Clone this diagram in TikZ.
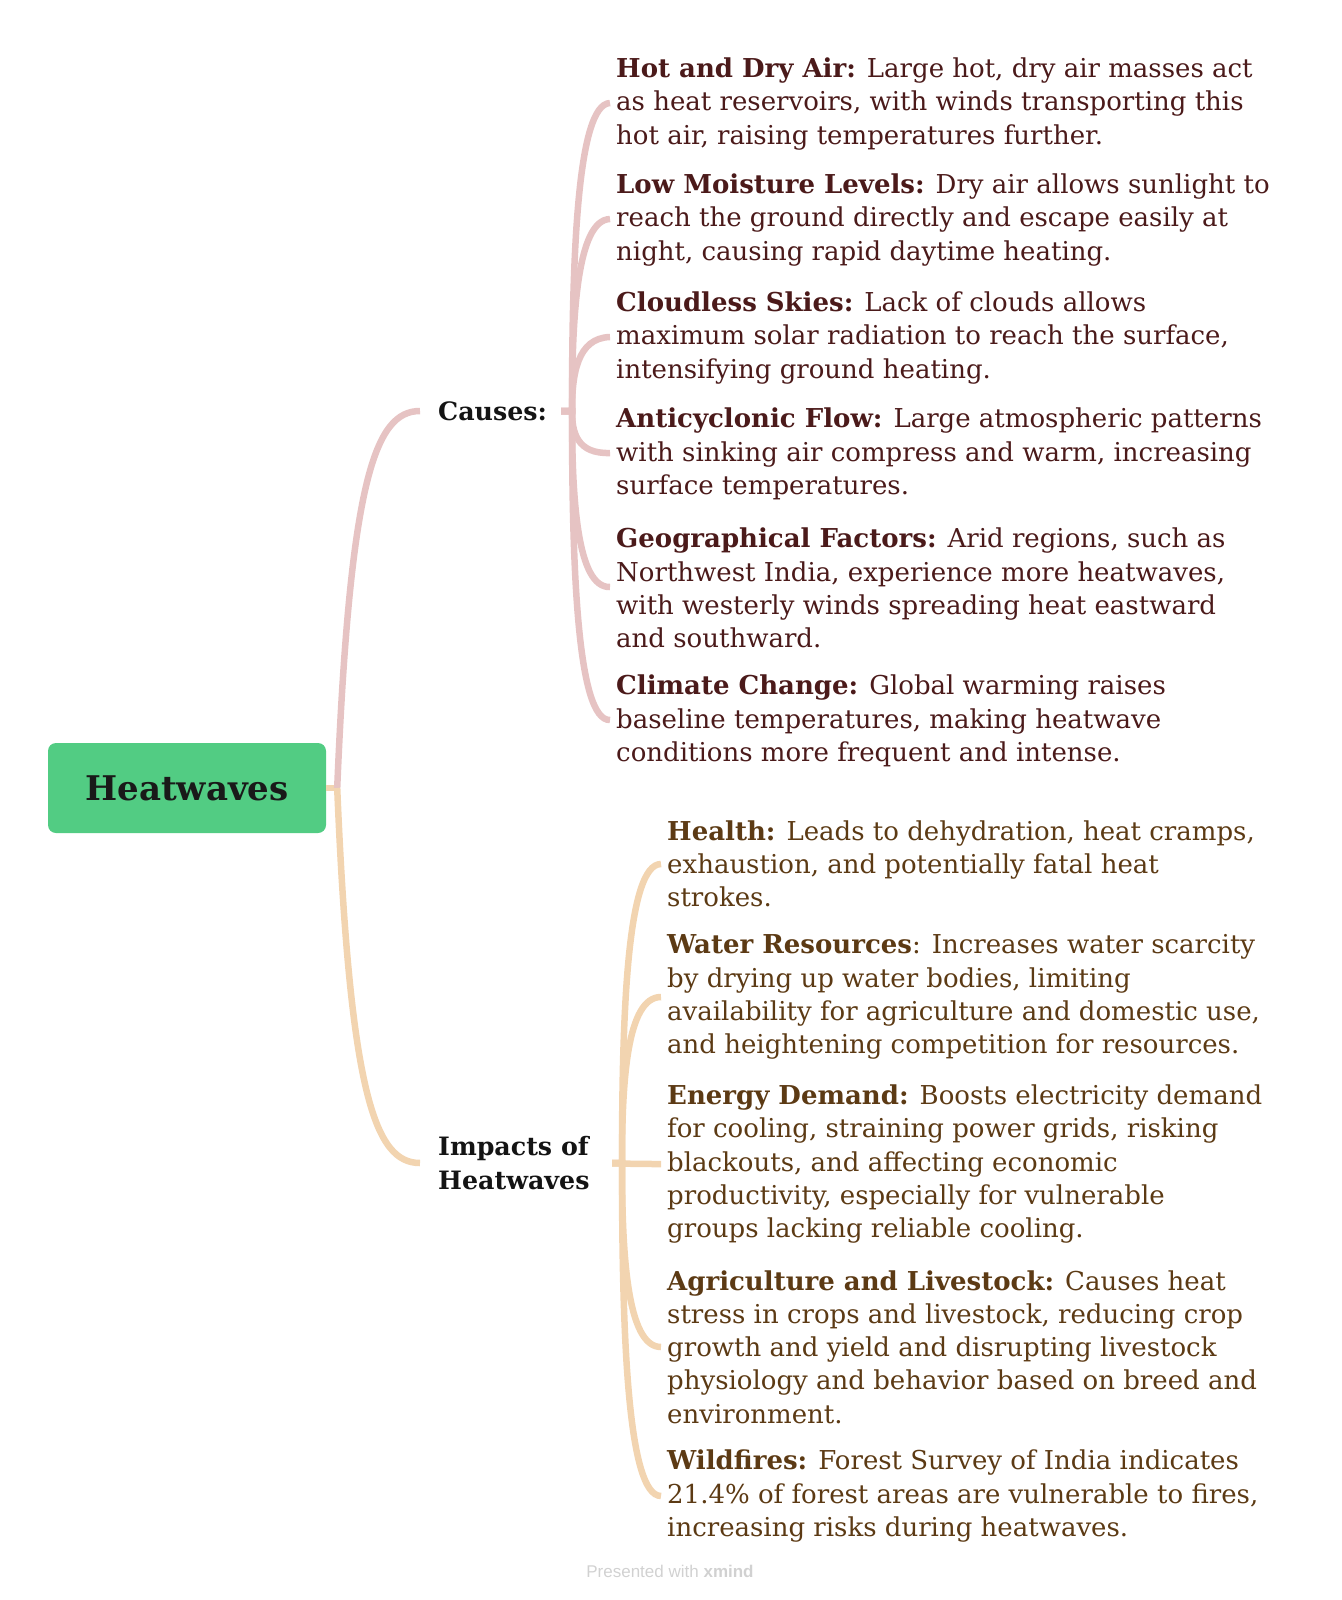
\documentclass[tikz,border=0pt]{standalone}
\usepackage{fontspec}
\setmainfont{DejaVu Serif}
\newfontfamily\footfont{Liberation Sans}
\usetikzlibrary{calc}
\definecolor{rootgreen}{HTML}{52CC83}
\definecolor{causeline}{HTML}{E6C3C3}
\definecolor{impactline}{HTML}{F2D4B0}
\definecolor{causetext}{HTML}{4B1A1A}
\definecolor{impacttext}{HTML}{5C3A14}

\begin{document}
\begin{tikzpicture}[x=1pt,y=-1pt,
   topic/.style={inner sep=0pt,align=left,anchor=west,
                 font=\fontsize{26}{33.2}\selectfont},
   cause/.style={topic,yshift=-2pt,text=causetext},
   impact/.style={topic,yshift=-1pt,text=impacttext},
   label/.style={inner sep=0pt,align=left,anchor=west,text=black!92,
                 font=\fontsize{25.3}{33.7}\selectfont\bfseries},
   branch/.style={line width=6.5pt}]
  \useasboundingbox (0,0) rectangle (1341,1600);
  \node[fill=rootgreen,rounded corners=8pt,minimum width=278pt,minimum height=90pt,
        font=\fontsize{34}{42}\selectfont\bfseries,text=black!90] (root) at (187,788) {Heatwaves};
  \node[label] (causes) at (438,411) {Causes:};
  \node[label] (impacts) at (438,1163) {Impacts of\\Heatwaves};
  % causes
  \node[cause] (hot) at (616,102) {\textbf{Hot and Dry Air:} Large hot, dry air masses act\\as heat reservoirs, with winds transporting this\\hot air, raising temperatures further.};
  \node[cause] (low) at (616,218) {\textbf{Low Moisture Levels:} Dry air allows sunlight to\\reach the ground directly and escape easily at\\night, causing rapid daytime heating.};
  \node[cause] (cloud) at (616,336) {\textbf{Cloudless Skies:} Lack of clouds allows\\maximum solar radiation to reach the surface,\\intensifying ground heating.};
  \node[cause] (anti) at (616,452) {\textbf{Anticyclonic Flow:} Large atmospheric patterns\\with sinking air compress and warm, increasing\\surface temperatures.};
  \node[cause] (geo) at (616,586) {\textbf{Geographical Factors:} Arid regions, such as\\Northwest India, experience more heatwaves,\\with westerly winds spreading heat eastward\\and southward.};
  \node[cause] (clim) at (616,719) {\textbf{Climate Change:} Global warming raises\\baseline temperatures, making heatwave\\conditions more frequent and intense.};
  % impacts
  \node[impact] (health) at (667,863) {\textbf{Health:} Leads to dehydration, heat cramps,\\exhaustion, and potentially fatal heat\\strokes.};
  \node[impact] (water) at (667,996) {\textbf{Water Resources}: Increases water scarcity\\by drying up water bodies, limiting\\availability for agriculture and domestic use,\\and heightening competition for resources.};
  \node[impact] (energy) at (667,1163) {\textbf{Energy Demand:} Boosts electricity demand\\for cooling, straining power grids, risking\\blackouts, and affecting economic\\productivity, especially for vulnerable\\groups lacking reliable cooling.};
  \node[impact] (agri) at (667,1346) {\textbf{Agriculture and Livestock:} Causes heat\\stress in crops and livestock, reducing crop\\growth and yield and disrupting livestock\\physiology and behavior based on breed and\\environment.};
  \node[impact] (fire) at (667,1495) {\textbf{Wildfires:} Forest Survey of India indicates\\21.4\% of forest areas are vulnerable to fires,\\increasing risks during heatwaves.};
  \node[text=black!18,font=\footfont\fontsize{17}{20}\selectfont] (footer) at (670,1571) {Presented with \textbf{xmind}};

  % connectors
  \coordinate (rj) at ($(root.east)+(11,0)$);
  \draw[branch,impactline] (root.east) -- (rj);
  \draw[branch,causeline] (rj) .. controls (350,480) and (375,411) .. ($(causes.west)+(-18,0)$);
  \draw[branch,impactline] (rj) .. controls (350,1095) and (375,1163) .. ($(impacts.west)+(-18,0)$);

  \coordinate (cj) at ($(causes.west)+(123,0)$);
  \coordinate (ct) at ($(cj)+(11,0)$);
  \foreach \n in {hot,low,cloud,anti,geo,clim}
    \draw[branch,causeline] (cj) -- (ct) .. controls ($(ct)!0.5!(ct|-\n.west)$)
       and ($(ct|-\n.west)+(5,0)$) .. ($(\n.west)+(-6,-1)$);

  \coordinate (ij) at ($(impacts.west)+(174,0)$);
  \coordinate (it) at ($(ij)+(10,0)$);
  \foreach \n in {health,water,energy,agri,fire}
    \draw[branch,impactline] (ij) -- (it) .. controls ($(it)!0.5!(it|-\n.west)$)
       and ($(it|-\n.west)+(5,0)$) .. ($(\n.west)+(-6,0)$);
\end{tikzpicture}
\end{document}
